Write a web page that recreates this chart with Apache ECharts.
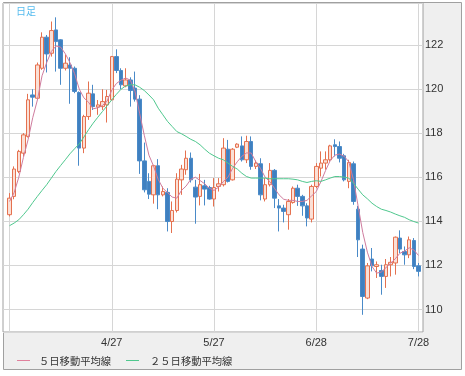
<!DOCTYPE html>
<html><head><meta charset="utf-8">
<script src="https://cdn.jsdelivr.net/npm/echarts@6/dist/echarts.min.js"></script>
<style>html,body{margin:0;padding:0;background:#fff}#c{width:465px;height:376px}</style>
</head><body><div id="c"></div><script>
const categories = ['3/27','3/28','3/29','3/30','3/31','4/3','4/4','4/5','4/6','4/7','4/10','4/11','4/12','4/13','4/17','4/18','4/19','4/20','4/21','4/24','4/25','4/26','4/27',
'4/28','5/1','5/2','5/3','5/4','5/5','5/8','5/9','5/10','5/11','5/12','5/15','5/16','5/17','5/18','5/19','5/22','5/23','5/24','5/25','5/26','5/27',
'5/30','5/31','6/1','6/2','6/5','6/6','6/7','6/8','6/9','6/12','6/13','6/14','6/15','6/16','6/19','6/20','6/21','6/22','6/23','6/26','6/27','6/28',
'6/29','6/30','7/3','7/4','7/5','7/6','7/7','7/10','7/11','7/12','7/13','7/14','7/17','7/18','7/19','7/20','7/21','7/24','7/25','7/26','7/27','7/28'];
const tickLabels = ['4/27','5/27','6/28','7/28'];
const opens = [114.30,115.13,116.26,117.09,117.85,119.73,119.58,120.94,122.35,121.62,122.68,122.23,120.94,121.09,120.94,119.84,117.32,118.75,119.78,119.18,119.20,119.28,119.51,
121.47,120.84,120.14,120.41,120.04,119.54,116.74,115.81,115.20,116.52,115.20,115.31,113.99,114.49,115.88,116.34,116.86,115.55,115.13,115.61,115.53,115.01,
115.58,115.66,117.27,115.88,117.36,117.42,116.79,117.62,116.49,116.61,115.01,115.66,116.31,114.70,114.60,114.30,114.85,115.50,115.13,114.70,114.10,115.58,
116.41,116.64,116.79,117.47,117.39,116.97,115.81,116.61,114.55,112.74,110.52,112.29,111.95,111.77,111.50,112.03,112.11,113.24,112.63,112.48,113.13,111.98];
const closes = [115.05,116.37,117.17,117.92,119.51,119.63,121.09,122.35,121.59,122.65,122.15,120.94,121.17,120.94,119.89,117.32,118.75,119.81,119.20,119.28,119.43,119.66,121.47,
120.84,120.19,120.41,119.93,119.54,116.74,115.43,115.23,116.52,115.20,115.35,113.99,114.49,115.91,116.37,116.86,115.88,115.10,115.66,115.46,115.01,115.53,
115.70,117.32,115.81,117.27,117.50,116.79,117.62,116.49,116.64,115.20,115.66,116.31,115.05,114.60,114.45,114.90,115.50,115.13,114.70,114.15,115.58,116.49,
116.64,116.79,117.42,117.39,116.86,115.88,116.67,114.90,113.16,110.59,111.98,111.98,112.03,111.50,112.03,112.14,113.28,112.74,112.48,113.16,111.95,111.73];
const lows = [114.22,115.00,116.18,116.94,117.80,119.20,119.54,120.87,120.75,121.47,120.79,120.19,120.84,119.33,119.81,116.52,117.09,118.60,119.05,118.83,119.05,118.48,119.48,
120.72,119.99,120.08,119.20,119.43,116.15,115.31,115.01,114.80,114.55,115.13,113.54,113.47,114.40,115.20,116.11,115.76,113.89,114.72,114.72,114.98,114.67,
115.35,115.58,115.76,115.85,117.32,116.71,116.64,116.34,116.37,114.95,114.90,115.58,114.60,113.54,113.95,113.62,114.80,114.70,114.25,113.77,113.95,115.50,
116.03,116.34,116.71,116.94,116.67,115.81,115.50,114.75,112.38,109.76,110.47,111.73,111.43,110.67,110.98,111.50,111.58,112.56,112.03,112.33,111.83,111.50];
const highs = [115.28,116.49,117.24,118.00,119.78,119.99,121.20,122.57,122.45,123.06,123.25,122.26,121.55,121.44,121.02,119.89,118.83,120.34,120.19,119.50,119.99,119.96,121.50,
121.80,120.94,120.94,120.53,120.79,119.72,117.57,116.18,116.56,116.82,115.58,115.50,114.90,116.18,116.56,117.21,117.12,115.88,116.15,115.88,115.61,115.96,
115.96,117.77,117.69,117.32,117.54,117.85,117.88,117.85,116.76,116.86,115.96,116.64,116.37,115.01,114.75,115.01,115.58,115.66,115.20,114.82,115.66,116.64,
117.17,117.17,117.47,117.72,117.62,117.06,116.79,116.71,114.70,112.94,112.11,112.79,112.18,112.03,112.29,112.38,113.31,113.59,112.86,113.31,113.24,112.11];
const ma5 = [114.9,115.3,116.0,116.9,117.7,118.7,119.5,120.6,121.2,121.7,121.95,121.9,121.6,121.2,120.7,120.0,119.6,119.4,119.1,119.15,119.25,119.45,119.95,
120.25,120.4,120.5,120.4,119.9,118.9,117.9,117.0,116.5,115.9,115.5,115.3,115.1,115.05,115.4,115.6,115.9,116.0,115.85,115.7,115.5,115.4,
115.55,115.8,116.0,116.4,116.7,116.95,117.1,117.1,116.7,116.4,116.0,115.8,115.5,115.2,115.0,114.95,114.95,114.9,114.9,114.95,115.15,115.35,
115.8,116.3,116.75,117.0,117.05,116.95,116.7,115.9,114.7,113.5,112.6,111.95,111.65,111.7,111.9,112.1,112.3,112.55,112.65,112.8,112.7,112.45];
const ma25 = [113.80,113.92,114.07,114.30,114.55,114.85,115.13,115.40,115.66,115.96,116.26,116.53,116.79,117.06,117.29,117.51,117.82,118.15,118.45,118.72,118.98,119.24,119.51,
119.76,119.99,120.14,120.19,120.19,120.08,119.93,119.73,119.51,119.13,118.83,118.53,118.30,118.07,117.97,117.85,117.72,117.62,117.47,117.27,117.09,116.97,
116.86,116.79,116.64,116.49,116.37,116.18,116.03,115.96,115.96,115.96,115.96,115.93,115.93,115.93,115.93,115.93,115.91,115.88,115.81,115.76,115.81,115.84,
115.81,115.88,115.96,116.03,116.03,116.00,115.96,115.73,115.46,115.20,115.02,114.82,114.67,114.55,114.49,114.42,114.33,114.25,114.18,114.07,113.99,113.92];

const YMIN = 108.98, YMAX = 123.9;
const candles = opens.map((o, i) => [o, closes[i], lows[i], highs[i]]);
const chart = echarts.init(document.getElementById('c'), null, {renderer: 'canvas'});
const fontLatin = 'Liberation Sans';
chart.setOption({
  animation: false,
  graphic: [
    {type: 'rect', z: -100, shape: {x: 3.5, y: 2.5, width: 458, height: 367}, style: {fill: '#efefef', stroke: '#a0a0a0', lineWidth: 1}},
    {type: 'text', z: 100, style: {text: '日足', x: 16, y: 11, fill: '#55bbee', font: '10px "Noto Sans CJK JP"', verticalAlign: 'middle', align: 'left'}},
    {type: 'line', shape: {x1: 17, y1: 360.5, x2: 30, y2: 360.5}, style: {stroke: '#e0809c', lineWidth: 1}},
    {type: 'text', style: {text: '５日移動平均線', x: 39, y: 361, fill: '#333', font: '10.3px "Noto Sans CJK JP"', verticalAlign: 'middle', align: 'left'}},
    {type: 'line', shape: {x1: 126, y1: 360.5, x2: 139, y2: 360.5}, style: {stroke: '#4fc88e', lineWidth: 1}},
    {type: 'text', style: {text: '２５日移動平均線', x: 150, y: 361, fill: '#333', font: '10.3px "Noto Sans CJK JP"', verticalAlign: 'middle', align: 'left'}}
  ],
  grid: [
    {left: 3, top: 3, width: 420, height: 329, show: true, backgroundColor: '#fff', borderColor: '#a0a0a0', borderWidth: 1},
    {left: 9.5, top: 3, width: 409, height: 329}
  ],
  xAxis: [
    {type: 'value', gridIndex: 0, show: false, min: 0, max: 1},
    {type: 'category', gridIndex: 1, data: categories, boundaryGap: false,
     axisLine: {show: false}, axisTick: {show: false},
     axisLabel: {interval: (i, v) => tickLabels.includes(v), margin: 5, fontSize: 11, fontFamily: fontLatin, color: '#333'},
     splitLine: {show: true, interval: (i) => i % 22 === 0, lineStyle: {color: '#d6d6d6', width: 1}}}
  ],
  yAxis: [
    {type: 'value', gridIndex: 0, position: 'right', min: YMIN, max: YMAX, splitNumber: 7,
     axisLine: {show: false}, axisTick: {show: false},
     axisLabel: {margin: 2, fontSize: 11, fontFamily: fontLatin, color: '#333', showMinLabel: false, showMaxLabel: false},
     splitLine: {show: true, lineStyle: {color: '#d6d6d6', width: 1}}},
    {type: 'value', gridIndex: 1, min: YMIN, max: YMAX, show: false, splitLine: {show: false}}
  ],
  series: [
    {type: 'candlestick', xAxisIndex: 1, yAxisIndex: 1, data: candles, barWidth: 4, clip: false,
     itemStyle: {color: '#fbe0d6', color0: '#3f80c0', borderColor: '#e5714f', borderColor0: '#4a8ac8', borderWidth: 1}},
    {type: 'line', name: '５日移動平均線', xAxisIndex: 1, yAxisIndex: 1, data: ma5, showSymbol: false, smooth: false,
     lineStyle: {color: '#cf7c9e', width: 1}, clip: false},
    {type: 'line', name: '２５日移動平均線', xAxisIndex: 1, yAxisIndex: 1, data: ma25, showSymbol: false, smooth: false,
     lineStyle: {color: '#4fc88e', width: 1}, clip: false}
  ]
});
</script></body></html>
